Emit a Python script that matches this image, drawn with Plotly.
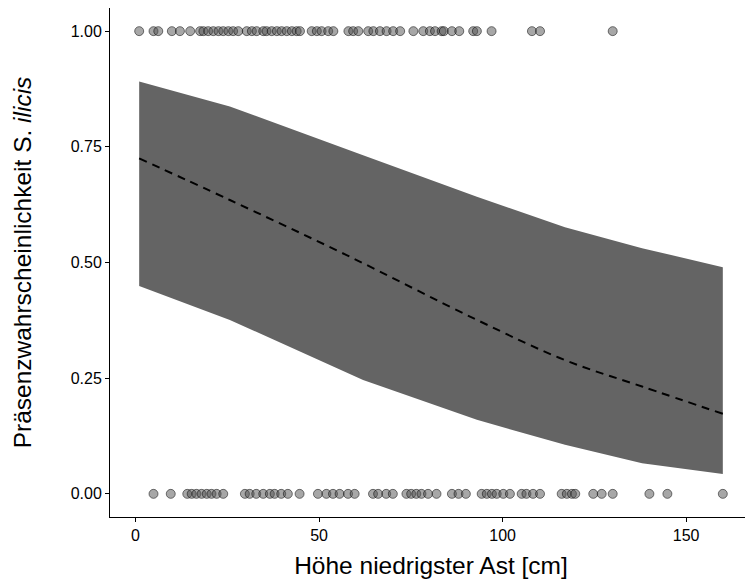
import plotly.graph_objects as go

# Observed presence (y=1) and absence (y=0) branch heights [cm]
x_present = [1.0, 4.9, 6.2, 9.9, 12.1, 14.9, 17.6, 18.5, 19.8, 21.2, 22.6, 23.9, 25.3, 26.6,
             28.0, 30.3, 31.7, 33.0, 34.8, 35.7, 37.1, 38.5, 39.8, 41.2, 42.6, 43.9, 44.8,
             48.0, 49.4, 50.7, 52.5, 53.9, 58.0, 59.3, 60.7, 63.4, 64.8, 66.6, 68.4, 70.2,
             72.1, 75.7, 78.4, 80.2, 81.6, 83.4, 84.0, 86.2, 88.2, 92.0, 93.0, 97.0, 108.0,
             110.2, 130.0]
x_absent = [4.9, 9.6, 14.1, 15.3, 16.6, 18.0, 19.4, 20.7, 22.1, 23.9, 29.8, 31.1, 32.9, 34.8,
            36.6, 37.9, 39.7, 41.5, 44.7, 49.7, 52.0, 53.8, 55.6, 57.9, 59.7, 64.7, 66.1,
            68.3, 70.1, 73.8, 75.1, 76.5, 77.9, 79.7, 82.0, 86.2, 88.0, 90.0, 94.3, 95.7,
            97.1, 98.4, 100.2, 102.0, 105.2, 106.5, 108.3, 110.2, 116.1, 117.5, 118.9,
            119.8, 124.7, 127.0, 130.0, 140.0, 144.9, 160.0]

# Fitted probability and confidence band
fit_x = [1, 25.7, 57.5, 93, 117, 138, 160]
fit_y = [0.725, 0.635, 0.516, 0.376, 0.289, 0.232, 0.173]
band_x = [1, 25.7, 62, 93, 117, 138, 160]
band_upper = [0.891, 0.837, 0.732, 0.642, 0.576, 0.531, 0.490]
band_lower = [0.449, 0.376, 0.246, 0.160, 0.106, 0.066, 0.043]

x_ticks = [0, 50, 100, 150]
y_ticks = [0, 0.25, 0.5, 0.75, 1.0]
y_ticklabels = ["0.00", "0.25", "0.50", "0.75", "1.00"]

fig = go.Figure()

fig.add_trace(go.Scatter(
    x=band_x + band_x[::-1], y=band_upper + band_lower[::-1],
    fill="toself", fillcolor="#646464", mode="lines",
    line=dict(width=0, color="#646464"), hoverinfo="skip", showlegend=False))

fig.add_trace(go.Scatter(
    x=fit_x, y=fit_y, mode="lines", line_shape="spline",
    line=dict(color="black", width=2, dash="8px,6px"), showlegend=False))

pt_marker = dict(size=9, color="rgba(80,80,80,0.5)",
                 line=dict(color="rgba(0,0,0,0.5)", width=1))
fig.add_trace(go.Scatter(x=x_present, y=[1] * len(x_present), mode="markers",
                         marker=pt_marker, showlegend=False))
fig.add_trace(go.Scatter(x=x_absent, y=[0] * len(x_absent), mode="markers",
                         marker=pt_marker, showlegend=False))

font = "Liberation Sans, Arial, sans-serif"
fig.update_layout(
    width=745, height=575,
    margin=dict(l=102, r=1, t=0, b=66, autoexpand=False),
    plot_bgcolor="white", paper_bgcolor="white",
    font=dict(family=font, color="black"),
    showlegend=False,
)
fig.update_xaxes(
    range=[-6.95, 167.95], tickvals=x_ticks, ticks="outside", ticklen=4,
    tickcolor="black", showline=True, linecolor="black", linewidth=1,
    showgrid=False, zeroline=False, tickfont=dict(size=16, color="black"),
    automargin=False,
    title=dict(text="Höhe niedrigster Ast [cm]", font=dict(size=24.5), standoff=13))
fig.update_yaxes(
    range=[-0.05, 1.05], tickvals=y_ticks, ticktext=y_ticklabels, ticks="outside",
    ticklen=4, tickcolor="black", showline=True, linecolor="black", linewidth=1,
    showgrid=False, zeroline=False, tickfont=dict(size=16, color="black"),
    automargin=False,
    title=dict(text="Präsenzwahrscheinlichkeit S. <i>ilicis</i>", font=dict(size=24.5),
               standoff=32))

fig.write_html("out.html")
